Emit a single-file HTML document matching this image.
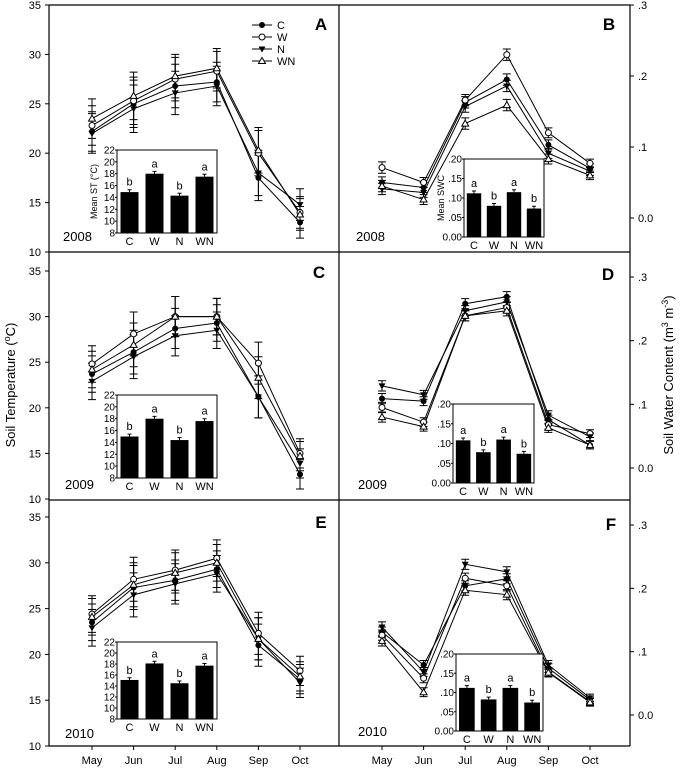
<!DOCTYPE html>
<html><head><meta charset="utf-8"><style>
html,body{margin:0;padding:0;background:#fff;}
svg{display:block;font-family:"Liberation Sans",Arial,sans-serif;}
</style></head><body>
<svg id="fig" width="680" height="768" viewBox="0 0 680 768" xmlns="http://www.w3.org/2000/svg">
<g stroke="#000" stroke-width="1.2" fill="none">
<line x1="49" y1="5" x2="630" y2="5"/>
<line x1="49" y1="252" x2="630" y2="252"/>
<line x1="49" y1="500" x2="630" y2="500"/>
<line x1="49" y1="746" x2="630" y2="746"/>
<line x1="49" y1="5" x2="49" y2="746"/>
<line x1="339" y1="5" x2="339" y2="746"/>
<line x1="630" y1="5" x2="630" y2="746"/>
</g>
<text transform="translate(15,385) rotate(-90)" text-anchor="middle" font-size="13">Soil Temperature (<tspan baseline-shift="super" font-size="9">o</tspan>C)</text>
<text transform="translate(673,375) rotate(-90)" text-anchor="middle" font-size="13">Soil Water Content (m<tspan baseline-shift="super" font-size="9">3</tspan> m<tspan baseline-shift="super" font-size="9">-3</tspan>)</text>
<g id="legend"></g>
</svg>
<script>
const months = ["May","Jun","Jul","Aug","Sep","Oct"];
const treatments = ["C","W","N","WN"];
// Panel A (2008 ST)
const A_C = [22.2,25.0,26.8,27.2,17.5,13.0];
const A_W = [22.8,25.3,27.5,28.3,20.0,14.0];
const A_N = [22.0,24.5,26.1,26.8,18.0,14.8];
const A_WN = [23.5,25.8,27.8,28.6,20.3,13.8];
// Panel B (2008 SWC)
const B_C = [0.050,0.043,0.163,0.195,0.103,0.070];
const B_W = [0.071,0.050,0.166,0.230,0.120,0.077];
const B_N = [0.041,0.036,0.157,0.186,0.091,0.066];
const B_WN = [0.045,0.026,0.133,0.159,0.083,0.060];
// Panel C (2009 ST)
const C_C = [23.7,26.1,28.7,29.3,21.2,12.7];
const C_W = [24.8,28.1,30.0,30.0,24.9,15.0];
const C_N = [22.9,25.6,27.9,28.5,21.2,13.9];
const C_WN = [24.2,26.9,30.0,30.0,23.3,14.7];
// Panel D (2009 SWC)
const D_C = [0.109,0.105,0.258,0.269,0.076,0.036];
const D_W = [0.095,0.072,0.239,0.252,0.068,0.054];
const D_N = [0.129,0.115,0.247,0.261,0.083,0.049];
const D_WN = [0.080,0.065,0.239,0.247,0.063,0.036];
// Panel E (2010 ST)
const E_C = [23.5,27.3,28.1,29.3,21.0,17.3];
const E_W = [24.4,28.2,29.2,30.5,22.3,18.2];
const E_N = [22.9,26.5,27.7,28.8,21.7,16.9];
const E_WN = [24.1,27.6,28.9,30.0,21.7,17.6];
// Panel F (2010 SWC)
const F_C = [0.131,0.079,0.204,0.215,0.074,0.024];
const F_W = [0.126,0.058,0.216,0.204,0.068,0.021];
const F_N = [0.139,0.068,0.238,0.226,0.079,0.027];
const F_WN = [0.117,0.036,0.197,0.190,0.067,0.020];
// error bar half-widths
const ST_err = [2.0,2.4,2.2,2.0,2.3,1.6];
const SWC_err = [0.008,0.007,0.008,0.008,0.007,0.006];
// inset means
const A_mean = [14.9,18.0,14.3,17.5];
const C_mean = [15.0,18.0,14.4,17.6];
const E_mean = [15.1,18.1,14.5,17.7];
const B_mean = [0.112,0.080,0.115,0.073];
const D_mean = [0.108,0.078,0.110,0.074];
const F_mean = [0.112,0.082,0.112,0.074];
const mean_letters = ["b","a","b","a"];
const swc_letters = ["a","b","a","b"];
const ST_ticks = [10,15,20,25,30,35];
const SWC_ticks = [0,0.1,0.2,0.3];
const SWC_tick_labels = ["0.0",".1",".2",".3"];
const inST_ticks = [8,10,12,14,16,18,20,22];
const inSWC_ticks = [0,0.05,0.10,0.15,0.20];
const inSWC_labels = ["0.00",".05",".10",".15",".20"];

const NS="http://www.w3.org/2000/svg";
const svg=document.getElementById('fig');
function mk(tag,attrs,parent){const e=document.createElementNS(NS,tag);for(const k in attrs)e.setAttribute(k,attrs[k]);(parent||svg).appendChild(e);return e;}
function marker(g,t,x,y){
  let e;
  if(t==="C"){e=mk('circle',{cx:x,cy:y,r:3,fill:'#000'},g);}
  else if(t==="W"){e=mk('circle',{cx:x,cy:y,r:3,fill:'#fff',stroke:'#000','stroke-width':1},g);}
  else if(t==="N"){e=mk('polygon',{points:`${x-3.5},${y-2.5} ${x+3.5},${y-2.5} ${x},${y+3.5}`,fill:'#000'},g);}
  else {e=mk('polygon',{points:`${x-3.5},${y+2.5} ${x+3.5},${y+2.5} ${x},${y-3.5}`,fill:'#fff',stroke:'#000','stroke-width':1},g);}
  
  
}
function panel(p){
  const g=mk('g',{});
  
  
  const ys=v=>p.y0+(v-p.v0)*(p.y1-p.y0)/(p.v1-p.v0);
  const xs=i=>p.x0+i*p.dx;
  p.ticks.forEach((t,i)=>{
    const y=ys(t);
    if(p.side==="left"){
      const l=mk('line',{x1:45,x2:49,y1:y,y2:y,stroke:'#000'},g);
      
      const tx=mk('text',{x:41,y:y+4,'text-anchor':'end','font-size':11},g);tx.textContent=p.tickLabels[i];
      
    }else{
      const l=mk('line',{x1:630,x2:634,y1:y,y2:y,stroke:'#000'},g);
      
      const tx=mk('text',{x:638,y:y+4,'text-anchor':'start','font-size':11},g);tx.textContent=p.tickLabels[i];
      
    }
  });
  if(p.bottom){
    months.forEach((m,i)=>{
      const l=mk('line',{x1:xs(i),x2:xs(i),y1:746,y2:750,stroke:'#000'},g);
      
      const t=mk('text',{x:xs(i),y:764,'text-anchor':'middle','font-size':11},g);t.textContent=m;
      
    });
  }
  treatments.forEach((tr,si)=>{
    const d=p.series[si];
    const pts=d.map((v,i)=>xs(i)+','+ys(v)).join(' ');
    const pl=mk('polyline',{points:pts,fill:'none',stroke:'#000','stroke-width':1},g);
    
    
    d.forEach((v,i)=>{
      const e=p.err[i], x=xs(i), ya=ys(v+e), yb=ys(v-e);
      const eb=mk('path',{d:`M${x},${ya}V${yb}M${x-4},${ya}H${x+4}M${x-4},${yb}H${x+4}`,stroke:'#000','stroke-width':1,fill:'none'},g);
      
      
    });
  });
  treatments.forEach((tr,si)=>{p.series[si].forEach((v,i)=>marker(g,tr,xs(i),ys(v)));});
  const L=mk('text',{x:p.letterX,y:p.letterY,'text-anchor':'middle','font-size':17,'font-weight':'bold'},g);L.textContent=p.letter;
  
  const Y=mk('text',{x:p.yearX,y:p.yearY,'font-size':13},g);Y.textContent=p.year;
  
  const ig=mk('g',{},g);
  
  
  const b=p.inset;
  const iy=v=>b.y1-(v-b.vmin)*(b.y1-b.y0)/(b.vmax-b.vmin);
  const r=mk('rect',{x:b.x0,y:b.y0,width:b.x1-b.x0,height:b.y1-b.y0,fill:'#fff',stroke:'#000','stroke-width':1},ig);
  
  b.ticks.forEach((t,i)=>{
    const tx=mk('text',{x:b.x0-2,y:iy(t)+3.5,'text-anchor':'end','font-size':10},ig);tx.textContent=b.labels[i];
    
    mk('line',{x1:b.x0-2,x2:b.x0,y1:iy(t),y2:iy(t),stroke:'#000'},ig);
  });
  const bw=(b.x1-b.x0)/4;
  b.means.forEach((v,i)=>{
    const cx=b.x0+bw*(i+0.5);
    const rc=mk('rect',{x:cx-bw*0.36,y:iy(v),width:bw*0.72,height:b.y1-iy(v),fill:'#000'},ig);
    
    
    mk('path',{d:`M${cx},${iy(v)}V${iy(v+b.e)}M${cx-2},${iy(v+b.e)}H${cx+2}`,stroke:'#000'},ig);
    const lt=mk('text',{x:cx,y:iy(v+b.e)-4,'text-anchor':'middle','font-size':11},ig);lt.textContent=b.letters[i];
    
    const ct=mk('text',{x:cx,y:b.y1+12,'text-anchor':'middle','font-size':11},ig);ct.textContent=treatments[i];
    
  });
  if(b.title){
    const tt=mk('text',{transform:`translate(${b.x0-20},${(b.y0+b.y1)/2}) rotate(-90)`,'text-anchor':'middle','font-size':9},ig);
    tt.textContent=b.title;
    
  }
}
const STtl=ST_ticks.map(String);
const L_x0=92,L_dx=41.6,R_x0=382,R_dx=41.6;
panel({letter:"A",year:"2008",series:[A_C,A_W,A_N,A_WN],err:ST_err,side:"left",ticks:ST_ticks,tickLabels:STtl,v0:35,y0:5,v1:10,y1:252,x0:L_x0,dx:L_dx,letterX:321,letterY:30,yearX:63,yearY:241,bottom:false,
  inset:{x0:117,x1:217,y0:150,y1:233,vmin:8,vmax:22,ticks:inST_ticks,labels:inST_ticks.map(String),means:A_mean,e:0.4,letters:mean_letters,title:"Mean ST (°C)"}});
panel({letter:"B",year:"2008",series:[B_C,B_W,B_N,B_WN],err:SWC_err,side:"right",ticks:SWC_ticks,tickLabels:SWC_tick_labels,v0:0,y0:218,v1:0.3,y1:5,x0:R_x0,dx:R_dx,letterX:609,letterY:30,yearX:356,yearY:241,bottom:false,
  inset:{x0:464,x1:544,y0:159,y1:237,vmin:0,vmax:0.2,ticks:inSWC_ticks,labels:inSWC_labels,means:B_mean,e:0.006,letters:swc_letters,title:"Mean SWC"}});
panel({letter:"C",year:"2009",series:[C_C,C_W,C_N,C_WN],err:ST_err,side:"left",ticks:ST_ticks,tickLabels:STtl,v0:35,y0:271,v1:10,y1:499,x0:L_x0,dx:L_dx,letterX:319,letterY:278,yearX:65,yearY:489,bottom:false,
  inset:{x0:117,x1:217,y0:395,y1:478,vmin:8,vmax:22,ticks:inST_ticks,labels:inST_ticks.map(String),means:C_mean,e:0.4,letters:mean_letters}});
panel({letter:"D",year:"2009",series:[D_C,D_W,D_N,D_WN],err:SWC_err,side:"right",ticks:SWC_ticks,tickLabels:SWC_tick_labels,v0:0,y0:468,v1:0.3,y1:277,x0:R_x0,dx:R_dx,letterX:608,letterY:280,yearX:358,yearY:489,bottom:false,
  inset:{x0:453,x1:534,y0:404,y1:483,vmin:0,vmax:0.2,ticks:inSWC_ticks,labels:inSWC_labels,means:D_mean,e:0.006,letters:swc_letters}});
panel({letter:"E",year:"2010",series:[E_C,E_W,E_N,E_WN],err:ST_err,side:"left",ticks:ST_ticks,tickLabels:STtl,v0:35,y0:517,v1:10,y1:746,x0:L_x0,dx:L_dx,letterX:321,letterY:528,yearX:65,yearY:738,bottom:true,
  inset:{x0:117,x1:217,y0:642,y1:719,vmin:8,vmax:22,ticks:inST_ticks,labels:inST_ticks.map(String),means:E_mean,e:0.4,letters:mean_letters}});
panel({letter:"F",year:"2010",series:[F_C,F_W,F_N,F_WN],err:SWC_err,side:"right",ticks:SWC_ticks,tickLabels:SWC_tick_labels,v0:0,y0:715,v1:0.3,y1:525,x0:R_x0,dx:R_dx,letterX:611,letterY:530,yearX:358,yearY:736,bottom:true,
  inset:{x0:456,x1:543,y0:654,y1:731,vmin:0,vmax:0.2,ticks:inSWC_ticks,labels:inSWC_labels,means:F_mean,e:0.006,letters:swc_letters}});
const lg=document.getElementById('legend');
treatments.forEach((t,i)=>{
  const y=25+i*12;
  const l=mk('line',{x1:252,x2:272,y1:y,y2:y,stroke:'#000'},lg);
  
  marker(lg,t,262,y);
  const tx=mk('text',{x:277,y:y+4,'font-size':11},lg);tx.textContent=t;
  
});
</script>
</body></html>
